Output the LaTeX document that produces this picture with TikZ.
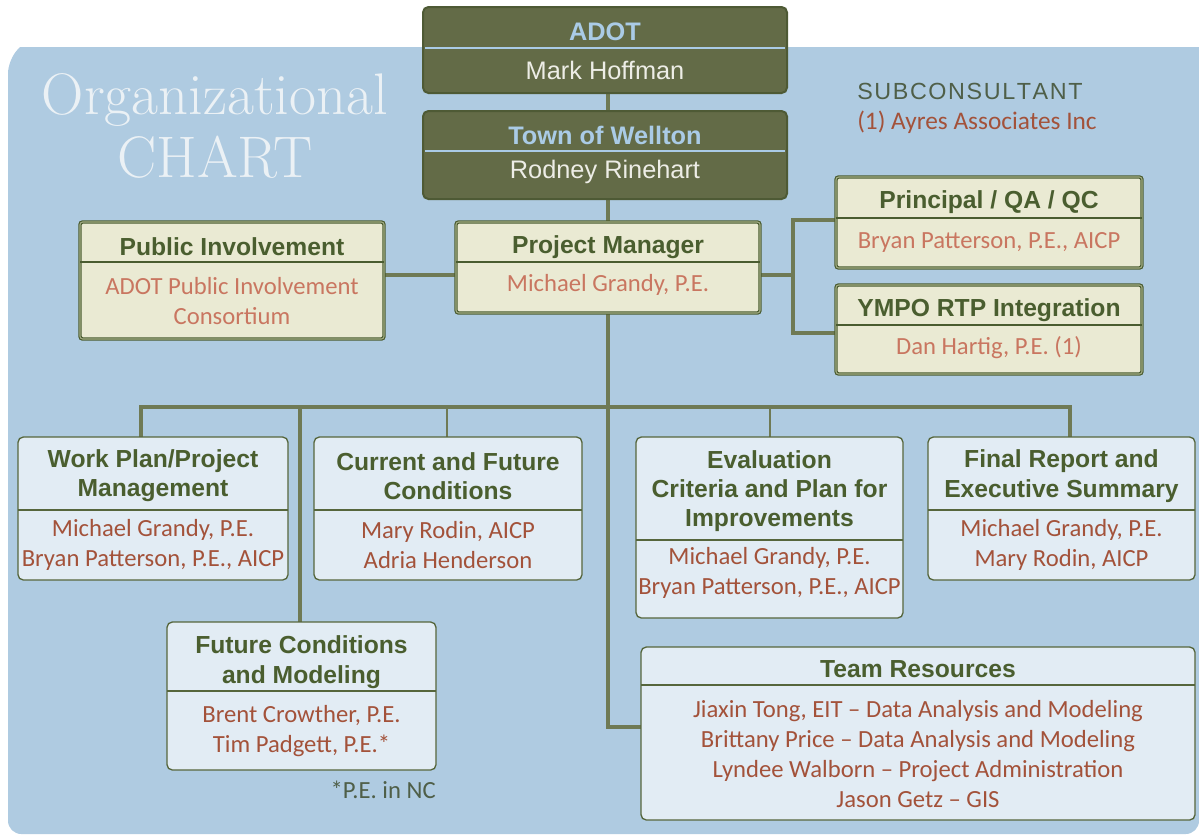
\documentclass[tikz,border=0pt]{standalone}
\usepackage{fontspec}
\setmainfont{Liberation Sans}
\newfontfamily\namefont{Carlito}
\newfontfamily\orgfont{Latin Modern Roman}
\usetikzlibrary{fit}
\definecolor{bgblue}{HTML}{AFCBE1}
\definecolor{darkbox}{HTML}{636B47}
\definecolor{darkedge}{HTML}{4E5A35}
\definecolor{cream}{HTML}{EAEAD3}
\definecolor{creamedge}{HTML}{4A5C30}
\definecolor{creammid}{HTML}{A3AC84}
\definecolor{paleblue}{HTML}{E2ECF4}
\definecolor{paleedge}{HTML}{56663C}
\definecolor{connc}{HTML}{6F7A55}
\definecolor{titleg}{HTML}{4A5E2F}
\definecolor{salmon}{HTML}{C97660}
\definecolor{rust}{HTML}{A3523A}
\definecolor{hdrblue}{HTML}{AACBE6}
\definecolor{offwhite}{HTML}{EDEDE6}
\definecolor{orgtext}{HTML}{EBF1F5}
\definecolor{subc}{HTML}{4F5F48}
\tikzset{
  darkstyle/.style={fill=darkbox, draw=darkedge, line width=1.5pt, rounded corners=4pt, inner sep=0pt},
  creamstyle/.style={fill=cream, draw=creamedge, line width=0.9pt, double=creammid, double distance=0.8pt, rounded corners=2pt, inner sep=0pt},
  bluestyle/.style={fill=paleblue, draw=paleedge, line width=1pt, rounded corners=4pt, inner sep=0pt},
  darkdiv/.style={draw=hdrblue, line width=1.2pt},
  creamdiv/.style={draw=creamedge, line width=1.2pt},
  bluediv/.style={draw=paleedge, line width=1pt},
  conn/.style={draw=connc, line width=2.6pt},
  thinconn/.style={draw=connc, line width=1.5pt},
  hdrtxt/.style={text=hdrblue, font=\bfseries\fontsize{19}{22}\selectfont, inner sep=0pt},
  whitetxt/.style={text=offwhite, font=\fontsize{19}{22}\selectfont, inner sep=0pt},
  ttl/.style={text=titleg, align=center, font=\bfseries\fontsize{18.5}{22}\selectfont, inner sep=0pt},
  nmsal/.style={text=salmon, align=center, font=\namefont\fontsize{18.5}{22.5}\selectfont, inner sep=0pt},
  nmrust/.style={text=rust, align=center, font=\namefont\fontsize{18.5}{22.5}\selectfont, inner sep=0pt},
}
\begin{document}
\begin{tikzpicture}[x=0.75pt,y=-0.75pt]
\useasboundingbox (0,0) rectangle (1199,836);
% background panel
\fill[bgblue] (8,60) -- (20,47) -- (1199,47) -- (1199,822) [rounded corners=10pt] -- (1199,834) -- (8,834) -- cycle;
\node[text=orgtext, font=\orgfont\fontsize{44}{44}\selectfont, inner sep=0pt] (orgA) at (215,100) {Organizational};
\node[text=orgtext, font=\orgfont\fontsize{44}{44}\selectfont, inner sep=0pt] (orgB) at (215,157) {CHART};
\node[anchor=west, text=subc, font=\fontsize{17.5}{20}\selectfont, inner sep=0pt] (subA) at (857,91) {S\kern1.2pt U\kern1.2pt B\kern1.2pt C\kern1.2pt O\kern1.2pt N\kern1.2pt S\kern1.2pt U\kern1.2pt L\kern1.2pt T\kern1.2pt A\kern1.2pt N\kern1.2pt T};
\node[anchor=west, text=rust, font=\namefont\fontsize{19}{22}\selectfont, inner sep=0pt] (subB) at (857,122) {(1) Ayres Associates Inc};

% coordinates for connectors
\coordinate (bus) at (608,407);
\coordinate (pmL) at (456,275);
\coordinate (piR) at (384,275);
\coordinate (pmR) at (760,275);
\coordinate (rv) at (793,275);
\coordinate (pqaIn) at (836,220);
\coordinate (ympoIn) at (836,333);
\coordinate (wpTop) at (141,437);
\coordinate (cfTop) at (447,437);
\coordinate (evTop) at (770,437);
\coordinate (frTop) at (1070,437);
\coordinate (fcTop) at (300,622);
\coordinate (trIn) at (641,727);
\coordinate (adotB) at (608,93);
\coordinate (townT) at (608,111);
\coordinate (townB) at (608,199);
\coordinate (pmT) at (608,222);
\coordinate (pmB) at (608,313);

% connectors (drawn first, under boxes)
\draw[conn] (adotB) -- (townT);
\draw[conn] (townB) -- (pmT);
\draw[conn] (piR) -- (pmL);
\draw[conn] (pmR) -- (rv);
\draw[conn] (pqaIn) -| (rv) |- (ympoIn);
\draw[conn] (pmB) -- (bus);
\draw[conn] (bus) -- (bus |- trIn) -- (trIn);
\draw[conn] (wpTop) |- (bus) -| (frTop);
\draw[thinconn] (cfTop) -- (cfTop |- bus);
\draw[thinconn] (evTop) -- (evTop |- bus);
\draw[conn] (fcTop) -- (fcTop |- bus);

% ADOT
\node[darkstyle, fit={(423,7) (787,93)}] (adot) {};
\draw[darkdiv] (425,48) -- (785,48);
\node[hdrtxt] (adotT) at (605,32) {ADOT};
\node[whitetxt] (adotN) at (605,70) {Mark Hoffman};

% Town of Wellton
\node[darkstyle, fit={(423,111) (787,199)}] (town) {};
\draw[darkdiv] (425,151) -- (785,151);
\node[hdrtxt] (townT) at (605,135) {Town of Wellton};
\node[whitetxt] (townN) at (605,172) {Rodney Rinehart};

% Public Involvement
\node[creamstyle, fit={(80,222) (384,339)}] (pi) {};
\draw[creamdiv] (80,262) -- (384,262);
\node[ttl] (piT) at (232,247) {Public Involvement};
\node[nmsal] (piN) at (232,301) {ADOT Public Involvement\\Consortium};

% Project Manager
\node[creamstyle, fit={(456,222) (760,313)}] (pm) {};
\draw[creamdiv] (456,262) -- (760,262);
\node[ttl] (pmT) at (608,247) {Project Manager};
\node[nmsal] (pmN) at (608,285) {Michael Grandy, P.E.};

% Principal / QA / QC
\node[creamstyle, fit={(836,177) (1142,268)}] (pqa) {};
\draw[creamdiv] (836,218) -- (1142,218);
\node[ttl] (pqaT) at (989,202) {Principal / QA / QC};
\node[nmsal] (pqaN) at (989,242) {Bryan Patterson, P.E., AICP};

% YMPO
\node[creamstyle, fit={(836,285) (1142,374)}] (ympo) {};
\draw[creamdiv] (836,325) -- (1142,325);
\node[ttl] (ympoT) at (989,310) {YMPO RTP Integration};
\node[nmsal] (ympoN) at (989,348) {Dan Hartig, P.E. (1)};

% Work Plan
\node[bluestyle, fit={(18,437) (288,580)}] (wp) {};
\draw[bluediv] (18,510) -- (288,510);
\node[ttl] (wpT) at (153,476) {Work Plan/Project\\Management};
\node[nmrust] (wpN) at (153,545) {Michael Grandy, P.E.\\Bryan Patterson, P.E., AICP};

% Current and Future
\node[bluestyle, fit={(314,437) (582,580)}] (cf) {};
\draw[bluediv] (314,510) -- (582,510);
\node[ttl] (cfT) at (448,476) {Current and Future\\Conditions};
\node[nmrust] (cfN) at (448,545) {Mary Rodin, AICP\\Adria Henderson};

% Evaluation
\node[bluestyle, fit={(636,437) (903,618)}] (ev) {};
\draw[bluediv] (636,540) -- (903,540);
\node[ttl] (evT) at (769.5,491) {Evaluation\\Criteria and Plan for\\Improvements};
\node[nmrust] (evN) at (769.5,573) {Michael Grandy, P.E.\\Bryan Patterson, P.E., AICP};

% Final Report
\node[bluestyle, fit={(928,437) (1195,580)}] (fr) {};
\draw[bluediv] (928,510) -- (1195,510);
\node[ttl] (frT) at (1061.5,476) {Final Report and\\Executive Summary};
\node[nmrust] (frN) at (1061.5,545) {Michael Grandy, P.E.\\Mary Rodin, AICP};

% Future Conditions
\node[bluestyle, fit={(167,622) (436,770)}] (fc) {};
\draw[bluediv] (167,691) -- (436,691);
\node[ttl] (fcT) at (301.5,662) {Future Conditions\\and Modeling};
\node[nmrust] (fcN) at (301.5,731) {Brent Crowther, P.E.\\Tim Padgett, P.E.*};
\node[anchor=east, text=subc, font=\namefont\fontsize{18.5}{22}\selectfont, inner sep=0pt] (note) at (436,790) {*P.E. in NC};

% Team Resources
\node[bluestyle, fit={(641,647) (1195,820)}] (tr) {};
\draw[bluediv] (641,685) -- (1195,685);
\node[ttl] (trT) at (918,669) {Team Resources};
\node[nmrust] (trN) at (918,754) {Jiaxin Tong, EIT – Data Analysis and Modeling\\Brittany Price – Data Analysis and Modeling\\Lyndee Walborn – Project Administration\\Jason Getz – GIS};
\end{tikzpicture}
\end{document}
